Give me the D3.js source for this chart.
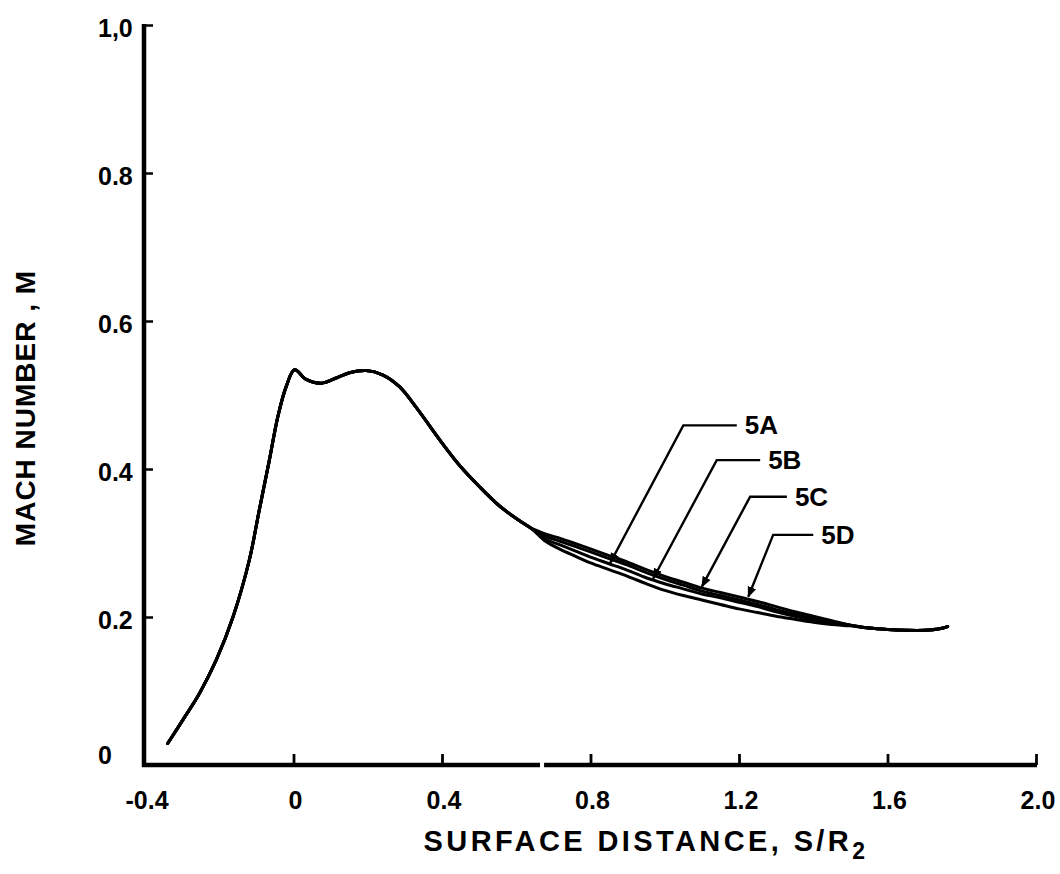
<!DOCTYPE html>
<html>
<head>
<meta charset="utf-8">
<script src="https://cdn.jsdelivr.net/npm/d3@7"></script>
<style>
  html, body { margin: 0; padding: 0; background: #fff; }
  svg { display: block; }
  text { font-family: "Liberation Sans", Arial, Helvetica, sans-serif; font-weight: bold; fill: #000; }
</style>
</head>
<body>
<svg id="chart" width="1060" height="874"></svg>
<script>
// Mach number along the surface, common part (upstream of the modified region)
const leadS = [-0.339, -0.298, -0.253, -0.208, -0.163, -0.119, -0.092, -0.065, -0.042, -0.020,
               0.003, 0.034, 0.075, 0.115, 0.151, 0.196, 0.241, 0.286, 0.331, 0.393,
               0.447, 0.501, 0.555, 0.609, 0.640];
const leadM = [0.029, 0.061, 0.097, 0.142, 0.200, 0.277, 0.345, 0.412, 0.471, 0.511,
               0.534, 0.521, 0.516, 0.523, 0.530, 0.533, 0.527, 0.511, 0.483, 0.440,
               0.405, 0.376, 0.350, 0.330, 0.320];

// Region where the four configurations differ
const bandS = [0.64, 0.68, 0.72, 0.76, 0.80, 0.85, 0.90, 0.95, 1.00, 1.05,
               1.10, 1.15, 1.20, 1.25, 1.30, 1.35, 1.40, 1.45, 1.50];
const m5A = [0.320, 0.312, 0.306, 0.299, 0.292, 0.283, 0.274, 0.264, 0.255, 0.247,
             0.239, 0.233, 0.227, 0.221, 0.214, 0.207, 0.201, 0.195, 0.189];
const m5B = [0.320, 0.309, 0.302, 0.295, 0.288, 0.279, 0.270, 0.260, 0.251, 0.243,
             0.235, 0.229, 0.223, 0.217, 0.210, 0.204, 0.198, 0.193, 0.189];
const m5C = [0.320, 0.305, 0.297, 0.289, 0.281, 0.272, 0.263, 0.253, 0.245, 0.238,
             0.231, 0.226, 0.220, 0.214, 0.207, 0.201, 0.196, 0.192, 0.189];
const m5D = [0.320, 0.302, 0.291, 0.282, 0.273, 0.264, 0.255, 0.245, 0.236, 0.229,
             0.223, 0.217, 0.211, 0.206, 0.201, 0.197, 0.193, 0.190, 0.188];

// Common part downstream
const tailS = [1.50, 1.55, 1.60, 1.65, 1.70, 1.74, 1.762];
const tailM = [0.188, 0.185, 0.183, 0.182, 0.182, 0.184, 0.187];

const configNames = ["5A", "5B", "5C", "5D"];
const configM = [m5A, m5B, m5C, m5D];

// Label callouts: elbow, end of horizontal run, arrow tip (S, M)
const calloutElbowS = [1.050, 1.140, 1.230, 1.292];
const calloutElbowM = [0.459, 0.412, 0.3626, 0.311];
const calloutRunEndS = [1.194, 1.257, 1.329, 1.400];
const calloutTipS = [0.853, 0.969, 1.100, 1.225];
const calloutTipM = [0.273, 0.252, 0.241, 0.2274];

const xTicks = [-0.4, 0, 0.4, 0.8, 1.2, 1.6, 2.0];
const xTickLabels = ["-0.4", "0", "0.4", "0.8", "1.2", "1.6", "2.0"];
const yTicks = [0, 0.2, 0.4, 0.6, 0.8, 1.0];
const yTickLabels = ["0", "0.2", "0.4", "0.6", "0.8", "1,0"];
const xAxisBreak = [0.664, 0.683];

const svg = d3.select("#chart");
const x = d3.scaleLinear().domain([-0.4, 2.0]).range([145, 1036]);
const y = d3.scaleLinear().domain([0, 1.0]).range([765, 25]);

const line = d3.line()
  .x(d => x(d[0]))
  .y(d => y(d[1]))
  .curve(d3.curveCatmullRom.alpha(0.5));

const zip = (a, b) => a.map((v, i) => [v, b[i]]);

// Curves: each configuration is the common part plus its own band values
const g = svg.append("g");
configM.forEach((vals, i) => {
  const pts = zip(leadS, leadM).slice(0, -1)
    .concat(zip(bandS, vals))
    .concat(zip(tailS, tailM).slice(1));
  g.append("path")
    .attr("d", line(pts))
    .attr("fill", "none")
    .attr("stroke", "#000")
    .attr("stroke-width", 3)
    .attr("stroke-linejoin", "round")
    .attr("stroke-linecap", "round");
});

// Axes
const yAxis = d3.axisLeft(y).tickValues(yTicks).tickSize(-9).tickFormat(() => "");
const yg = svg.append("g").attr("transform", `translate(${x(-0.4) - 1},0)`).call(yAxis);
yg.select(".domain").remove();
yg.selectAll(".tick line").attr("stroke", "#000").attr("stroke-width", 2.5);
svg.append("line")
  .attr("x1", x(-0.4) - 1).attr("x2", x(-0.4) - 1)
  .attr("y1", y(1.0) - 1).attr("y2", y(0) + 2)
  .attr("stroke", "#000").attr("stroke-width", 4.5);

const xAxis = d3.axisBottom(x).tickValues(xTicks.slice(1)).tickSize(-11).tickFormat(() => "");
const xg = svg.append("g").attr("transform", `translate(0,${y(0)})`).call(xAxis);
xg.select(".domain").remove();
xg.selectAll(".tick line").attr("stroke", "#000").attr("stroke-width", 2.8);
[[-0.4, xAxisBreak[0]], [xAxisBreak[1], 2.0]].forEach(([a, b]) => {
  svg.append("line")
    .attr("x1", x(a) - 3).attr("x2", x(b) + (b === 2.0 ? 1 : 0))
    .attr("y1", y(0)).attr("y2", y(0))
    .attr("stroke", "#000").attr("stroke-width", 4.5);
});

// Tick labels
svg.append("g").selectAll("text")
  .data(xTicks)
  .join("text")
  .attr("x", d => x(d) + 2)
  .attr("y", 809)
  .attr("text-anchor", "middle")
  .attr("font-size", 25)
  .text((d, i) => xTickLabels[i]);

svg.append("g").selectAll("text")
  .data(yTicks)
  .join("text")
  .attr("x", 98)
  .attr("y", d => d === 0 ? y(d) - 1 : y(d) + 12)
  .attr("text-anchor", "start")
  .attr("font-size", 25)
  .text((d, i) => yTickLabels[i]);

// Axis titles
const xt = svg.append("text")
  .attr("x", 646)
  .attr("y", 851)
  .attr("text-anchor", "middle")
  .attr("font-size", 29)
  .attr("letter-spacing", 3.4);
xt.append("tspan").text("SURFACE DISTANCE, S/R");
xt.append("tspan").attr("dy", 8).attr("font-size", 23).text("2");

svg.append("text")
  .attr("transform", `translate(35,408) rotate(-90)`)
  .attr("text-anchor", "middle")
  .attr("font-size", 28)
  .attr("letter-spacing", 1)
  .text("MACH NUMBER , M");

// Callouts with arrowheads
svg.append("defs").append("marker")
  .attr("id", "arrowhead")
  .attr("viewBox", "0 0 10 10")
  .attr("refX", 9).attr("refY", 5)
  .attr("markerWidth", 4.6).attr("markerHeight", 4.6)
  .attr("markerUnits", "strokeWidth")
  .attr("orient", "auto")
  .append("path")
  .attr("d", "M0,1 L10,5 L0,9 Z")
  .attr("fill", "#000");

configNames.forEach((name, i) => {
  const pts = [
    [calloutRunEndS[i], calloutElbowM[i]],
    [calloutElbowS[i], calloutElbowM[i]],
    [calloutTipS[i], calloutTipM[i]]
  ];
  svg.append("path")
    .attr("d", d3.line().x(d => x(d[0])).y(d => y(d[1]))(pts))
    .attr("fill", "none")
    .attr("stroke", "#000")
    .attr("stroke-width", 2.4)
    .attr("marker-end", "url(#arrowhead)");
  svg.append("text")
    .attr("x", x(calloutRunEndS[i]) + 8)
    .attr("y", y(calloutElbowM[i]) + 9)
    .attr("font-size", 26)
    .text(name);
});
</script>
</body>
</html>
